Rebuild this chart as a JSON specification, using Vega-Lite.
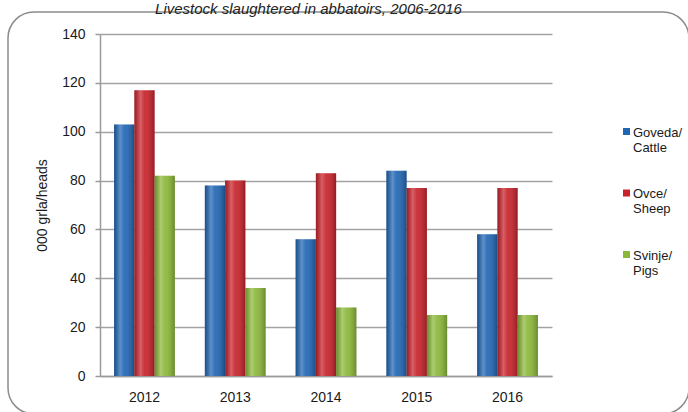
{
  "$schema": "https://vega.github.io/schema/vega-lite/v6.json",
  "autosize": "none",
  "width": 681,
  "height": 402,
  "padding": {"left": 8, "top": 12, "right": 0, "bottom": 0},
  "background": "white",
  "title": {
    "text": "Livestock slaughtered in abbatoirs, 2006-2016",
    "font": "Liberation Sans",
    "fontStyle": "italic",
    "fontWeight": "normal",
    "fontSize": 15,
    "color": "#222222",
    "anchor": "middle",
    "frame": "group",
    "baseline": "alphabetic",
    "offset": 0,
    "dy": 17,
    "dx": -40
  },
  "data": {
    "values": [
      {"year": "2012", "type": "Goveda/ Cattle", "value": 103},
      {"year": "2012", "type": "Ovce/ Sheep", "value": 117},
      {"year": "2012", "type": "Svinje/ Pigs", "value": 82},
      {"year": "2013", "type": "Goveda/ Cattle", "value": 78},
      {"year": "2013", "type": "Ovce/ Sheep", "value": 80},
      {"year": "2013", "type": "Svinje/ Pigs", "value": 36},
      {"year": "2014", "type": "Goveda/ Cattle", "value": 56},
      {"year": "2014", "type": "Ovce/ Sheep", "value": 83},
      {"year": "2014", "type": "Svinje/ Pigs", "value": 28},
      {"year": "2015", "type": "Goveda/ Cattle", "value": 84},
      {"year": "2015", "type": "Ovce/ Sheep", "value": 77},
      {"year": "2015", "type": "Svinje/ Pigs", "value": 25},
      {"year": "2016", "type": "Goveda/ Cattle", "value": 58},
      {"year": "2016", "type": "Ovce/ Sheep", "value": 77},
      {"year": "2016", "type": "Svinje/ Pigs", "value": 25}
    ]
  },
  "encoding": {
    "x": {
      "field": "year",
      "type": "nominal",
      "scale": {"range": [92, 544], "paddingInner": 0.33, "paddingOuter": 0.155},
      "axis": {
        "title": null,
        "offset": -38,
        "labelAngle": 0,
        "ticks": false,
        "labelPadding": 14,
        "labelFontSize": 14,
        "labelColor": "#1a1a1a",
        "domainColor": "#9a9a9a",
        "domainWidth": 1.5,
        "grid": false
      }
    },
    "xOffset": {
      "field": "type",
      "type": "nominal",
      "sort": ["Goveda/ Cattle", "Ovce/ Sheep", "Svinje/ Pigs"],
      "scale": {"paddingInner": 0, "paddingOuter": 0}
    },
    "y": {
      "field": "value",
      "type": "quantitative",
      "scale": {"domain": [0, 140], "range": [364, 22], "nice": false, "zero": true},
      "axis": {
        "title": "000 grla/heads",
        "titleFontSize": 14,
        "titleFontWeight": "normal",
        "titleColor": "#1a1a1a",
        "titlePadding": 12,
        "offset": -92,
        "values": [0, 20, 40, 60, 80, 100, 120, 140],
        "labelFontSize": 14,
        "labelColor": "#1a1a1a",
        "labelPadding": 10,
        "tickSize": 5,
        "tickColor": "#9a9a9a",
        "tickWidth": 1.5,
        "domainColor": "#9a9a9a",
        "domainWidth": 1.5,
        "gridColor": "#a3a3a3",
        "gridWidth": 1.5
      }
    }
  },
  "layer": [
    {
      "mark": {"type": "bar"},
      "encoding": {
        "color": {
          "field": "type",
          "type": "nominal",
          "sort": ["Goveda/ Cattle", "Ovce/ Sheep", "Svinje/ Pigs"],
          "scale": {"range": ["#2166b4", "#c8232b", "#8cb83a"]},
          "legend": {
            "title": null,
            "orient": "none",
            "legendX": 612,
            "legendY": 108,
            "padding": 0,
            "symbolType": "M-1,0.43H1V2.43H-1Z",
            "symbolSize": 49,
            "symbolStrokeWidth": 0,
            "labelFontSize": 13,
            "labelColor": "#1a1a1a",
            "labelOffset": 0,
            "labelBaseline": "top",
            "labelExpr": "split(datum.label, ' ')",
            "rowPadding": 26.5
          }
        }
      }
    },
    {
      "mark": {
        "type": "bar",
        "fill": {
          "gradient": "linear",
          "x1": 0, "x2": 1, "y1": 0, "y2": 0,
          "stops": [
            {"offset": 0, "color": "rgba(0,0,0,0.22)"},
            {"offset": 0.3, "color": "rgba(255,255,255,0.28)"},
            {"offset": 0.5, "color": "rgba(255,255,255,0.08)"},
            {"offset": 1, "color": "rgba(0,0,0,0.25)"}
          ]
        }
      }
    }
  ],
  "config": {
    "font": "Liberation Sans",
    "view": {"stroke": "#8c8c8c", "strokeWidth": 1.5, "cornerRadius": 26, "fill": null}
  }
}
